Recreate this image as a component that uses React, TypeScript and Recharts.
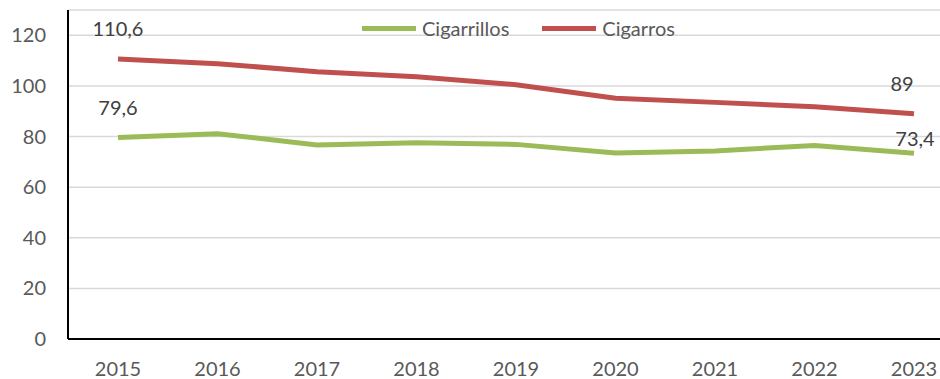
import { CartesianGrid, LabelList, Legend, Line, LineChart, XAxis, YAxis } from "recharts";

const years = ["2015", "2016", "2017", "2018", "2019", "2020", "2021", "2022", "2023"];
const cigarrillos = [79.6, 81.1, 76.7, 77.5, 76.9, 73.5, 74.3, 76.5, 73.4];
const cigarros = [110.6, 108.8, 105.6, 103.6, 100.5, 95.1, 93.5, 91.8, 89];
const cigarrillosLabels = ["79,6", "", "", "", "", "", "", "", "73,4"];
const cigarrosLabels = ["110,6", "", "", "", "", "", "", "", "89"];
const yTicks = [0, 20, 40, 60, 80, 100, 120];

const GREEN = "#9BBB59";
const RED = "#C0504D";
const TEXT = "#595959";
const FONT = "Lato, 'Open Sans', sans-serif";

const data = years.map((year, i) => ({
  year,
  cigarrillos: cigarrillos[i],
  cigarros: cigarros[i],
  cigarrillosLabel: cigarrillosLabels[i],
  cigarrosLabel: cigarrosLabels[i],
}));

function PointLabel(props: any) {
  const { x, y, value, index, near } = props;
  if (!value) return null;
  const last = index === years.length - 1;
  const dy = near && last ? -15 : -31;
  const dx = last && !near ? -12 : last ? 1 : 0;
  return (
    <text x={x + dx} y={y + dy} textAnchor="middle" dominantBaseline="central" fill="#404040" fontSize={20} fontFamily={FONT}>
      {value}
    </text>
  );
}

function ChartLegend() {
  const items = [
    { name: "Cigarrillos", color: GREEN },
    { name: "Cigarros", color: RED },
  ];
  return (
    <div style={{ display: "flex", alignItems: "center", fontFamily: FONT, fontSize: 20, color: TEXT }}>
      {items.map((it) => (
        <div key={it.name} style={{ display: "flex", alignItems: "center", marginRight: 33 }}>
          <span style={{ display: "inline-block", width: 54, height: 5, background: it.color, marginRight: 6 }} />
          <span>{it.name}</span>
        </div>
      ))}
    </div>
  );
}

export default function App() {
  return (
    <div style={{ position: "absolute", left: 0, top: 0, width: 940, height: 379, overflow: "hidden", background: "#fff" }}>
      <LineChart width={972} height={379} data={data} margin={{ top: 10, right: 8, left: 0, bottom: 0 }}>
        <CartesianGrid vertical={false} stroke="#D9D9D9" strokeWidth={1.5} />
        <XAxis
          dataKey="year"
          height={40}
          padding={{ left: 50, right: 50 }}
          tickLine={false}
          axisLine={{ stroke: "#000", strokeWidth: 2 }}
          tick={{ fill: TEXT, fontSize: 20, fontFamily: FONT, dy: 15 }}
          interval={0}
        />
        <YAxis
          width={68}
          domain={[0, 130]}
          ticks={yTicks}
          tickLine={false}
          axisLine={{ stroke: "#000", strokeWidth: 2 }}
          tick={{ fill: TEXT, fontSize: 20, fontFamily: FONT, dx: -14 }}
        />
        <Legend
          layout="horizontal"
          verticalAlign="middle"
          align="center"
          wrapperStyle={{ top: 16, left: 362, width: "auto" }}
          content={() => <ChartLegend />}
        />
        <Line
          dataKey="cigarrillos"
          stroke={GREEN}
          strokeWidth={5}
          dot={false}
          activeDot={false}
          isAnimationActive={false}
        >
          <LabelList dataKey="cigarrillosLabel" content={(p: any) => <PointLabel {...p} near />} />
        </Line>
        <Line
          dataKey="cigarros"
          stroke={RED}
          strokeWidth={5}
          dot={false}
          activeDot={false}
          isAnimationActive={false}
        >
          <LabelList dataKey="cigarrosLabel" content={(p: any) => <PointLabel {...p} />} />
        </Line>
      </LineChart>
    </div>
  );
}
